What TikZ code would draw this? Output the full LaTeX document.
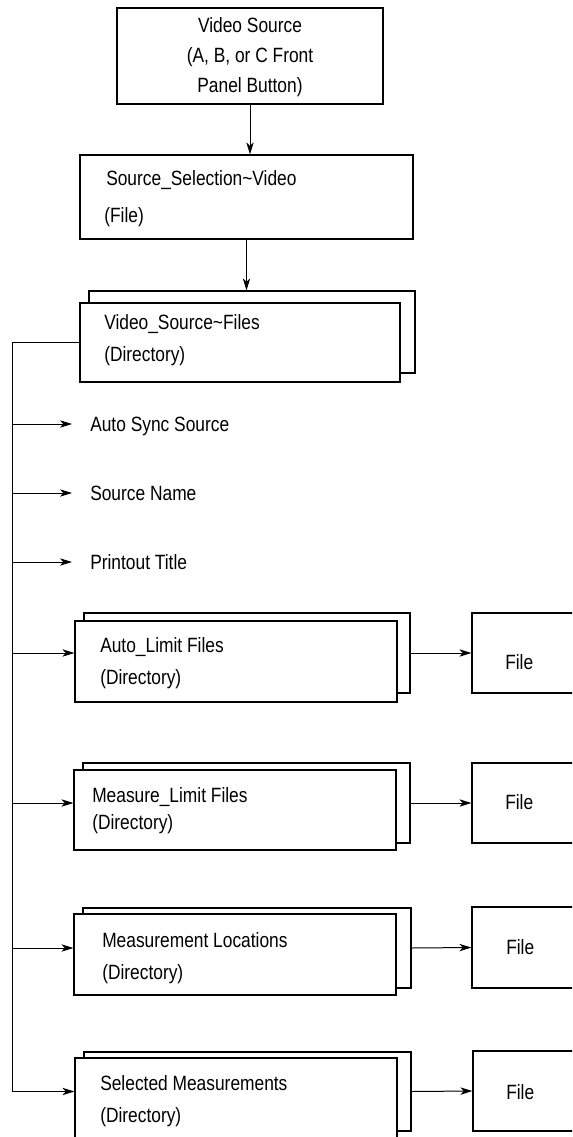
\documentclass[tikz,border=0pt]{standalone}
\usepackage{fontspec}
\setmainfont{Liberation Sans}[FakeStretch=0.84]
\usetikzlibrary{arrows.meta,fit}
\begin{document}
\begin{tikzpicture}[x=0.75pt,y=-0.75pt,
  box/.style={draw, line width=0.85pt, fill=white, inner sep=0pt},
  lbl/.style={anchor=west, inner sep=0pt, text height=10.7pt, text depth=0pt, font=\fontsize{15.5}{18}\selectfont},
  lblc/.style={lbl, anchor=center},
  conn/.style={draw, line width=0.75pt, -{Stealth[length=9pt,width=5.5pt,inset=2.5pt]}},
]
\useasboundingbox (0,0) rectangle (572,1137);
\clip (0,0) rectangle (572,1137);

% top box
\node[box, fit={(117,8) (383,104)}] (src) {};
\node[lblc] (srcA) at (250,25) {Video Source};
\node[lblc] (srcB) at (250,55) {(A, B, or C Front};
\node[lblc] (srcC) at (250,85) {Panel Button)};

% source selection file
\node[box, fit={(80,155) (413,239)}] (sel) {};
\node[lbl] (selA) at (106,178) {Source\_Selection\textasciitilde Video};
\node[lbl] (selB) at (104,215) {(File)};

% video source files directory
\node[box, fit={(89,291) (415,373)}] (vsfB) {};
\node[box, fit={(80,303) (400,382)}] (vsf) {};
\node[lbl] (vsfA) at (104,322) {Video\_Source\textasciitilde Files};
\node[lbl] (vsfC) at (104,354) {(Directory)};

% plain entries
\node[lbl, inner xsep=13.5pt] (ast) at (72,424) {Auto Sync Source};
\node[lbl, inner xsep=13.5pt] (snm) at (72,493) {Source Name};
\node[lbl, inner xsep=13.5pt] (ptt) at (72,562) {Printout Title};

% Auto_Limit
\node[box, fit={(84,613) (410,693)}] (alB) {};
\node[box, fit={(75,621) (397,702)}] (al) {};
\node[lbl] (alA) at (100,645) {Auto\_Limit Files};
\node[lbl] (alC) at (100,677) {(Directory)};
\node[box, fit={(472,613) (590,693)}] (alf) {};
\node[lbl] (alfT) at (505,662) {File};

% Measure_Limit
\node[box, fit={(83,763) (410,843)}] (mlB) {};
\node[box, fit={(74,770) (396,850)}] (ml) {};
\node[lbl] (mlA) at (92,795) {Measure\_Limit Files};
\node[lbl] (mlC) at (92,822) {(Directory)};
\node[box, fit={(472,763) (590,843)}] (mlf) {};
\node[lbl] (mlfT) at (505,802) {File};

% Measurement Locations
\node[box, fit={(83,908) (411,988)}] (mcB) {};
\node[box, fit={(74,914) (396,995)}] (mc) {};
\node[lbl] (mcA) at (102,940) {Measurement Locations};
\node[lbl] (mcC) at (102,972) {(Directory)};
\node[box, fit={(472,907) (590,988)}] (mcf) {};
\node[lbl] (mcfT) at (506,947) {File};

% Selected Measurements
\node[box, fit={(84,1052) (411,1131)}] (smB) {};
\node[box, fit={(75,1058) (397,1142)}] (sm) {};
\node[lbl] (smA) at (100,1083) {Selected Measurements};
\node[lbl] (smC) at (100,1115) {(Directory)};
\node[box, fit={(473,1051) (590,1131)}] (smf) {};
\node[lbl] (smfT) at (506,1092) {File};

% connectors
\coordinate (tk) at (12,0);
\draw[conn] (src.south) -- (src.south |- sel.north);
\draw[conn] (sel.south) -- (sel.south |- vsfB.north);
\draw[conn] (vsf.west) -| (tk |- smB.east) -- (sm.west |- smB.east);
\draw[conn] (tk |- ast.west) -- (ast.west);
\draw[conn] (tk |- snm.west) -- (snm.west);
\draw[conn] (tk |- ptt.west) -- (ptt.west);
\draw[conn] (tk |- alB.east) -- (al.west |- alB.east);
\draw[conn] (tk |- mlB.east) -- (ml.west |- mlB.east);
\draw[conn] (tk |- mcB.east) -- (mc.west |- mcB.east);
\draw[conn] (alB.east) -- (alf.west);
\draw[conn] (mlB.east) -- (mlf.west);
\draw[conn] (mcB.east) -- (mcf.west);
\draw[conn] (smB.east) -- (smf.west);
\end{tikzpicture}
\end{document}
